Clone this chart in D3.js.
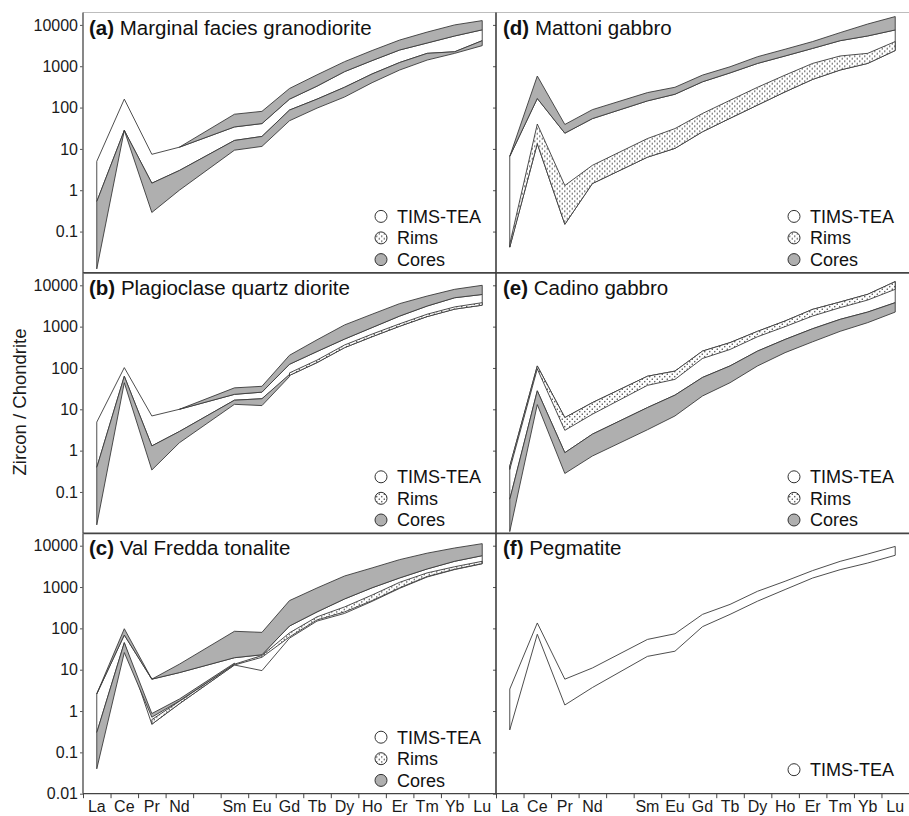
<!DOCTYPE html>
<html>
<head>
<meta charset="utf-8">
<script src="https://cdn.jsdelivr.net/npm/d3@7"></script>
<style>
  html, body { margin: 0; padding: 0; background: #fff; }
  svg { display: block; font-family: "Liberation Sans", Arial, Helvetica, sans-serif; }
</style>
</head>
<body>
<svg id="chart" width="909" height="816"></svg>
<script>
// ---- x axis: REE slots (Pm kept as an empty slot) ----
const slots = ["La","Ce","Pr","Nd","Pm","Sm","Eu","Gd","Tb","Dy","Ho","Er","Tm","Yb","Lu"];
const slotLabels = ["La","Ce","Pr","Nd","","Sm","Eu","Gd","Tb","Dy","Ho","Er","Tm","Yb","Lu"];
const elements = ["La","Ce","Pr","Nd","Sm","Eu","Gd","Tb","Dy","Ho","Er","Tm","Yb","Lu"];

// ---- y axis (chondrite-normalised, log) ----
const yTicks = [0.01, 0.1, 1, 10, 100, 1000, 10000];
const yTickLabels = ["0.01", "0.1", "1", "10", "100", "1000", "10000"];

const panelLetters = ["a", "b", "c", "d", "e", "f"];
const panelTitles = ["Marginal facies granodiorite", "Plagioclase quartz diorite", "Val Fredda tonalite",
                     "Mattoni gabbro", "Cadino gabbro", "Pegmatite"];
const legendLabels = ["TIMS-TEA", "Rims", "Cores"];

// ---- envelopes (lower / upper bound per element, La..Lu) ----
// (a) Marginal facies granodiorite
const aTimsLo = [0.53, 28, 1.48, 3.0, 16, 20, 87, 160, 310, 650, 1230, 2050, 2240, 4150];
const aTimsHi = [5.0, 160, 7.4, 11, 34, 41, 160, 330, 740, 1370, 2470, 3650, 5400, 7600];
const aCoreALo = [0.0125, 28, 0.29, 1.0, 9.3, 11.5, 48, 97, 180, 400, 810, 1410, 2050, 3150];
const aCoreAHi = [0.53, 28, 1.48, 3.0, 16, 20, 87, 160, 310, 650, 1230, 2050, 2240, 4150];
const aCoreBLo = [null, null, null, 11, 34, 41, 160, 330, 740, 1370, 2470, 3650, 5400, 7600];
const aCoreBHi = [null, null, null, 11, 69, 81, 290, 620, 1290, 2400, 4300, 6700, 10000, 12700];

// (b) Plagioclase quartz diorite
const bTimsLo = [0.39, 63, 1.3, 2.9, 16.6, 18, 66, 135, 310, 570, 1020, 1750, 2650, 3300];
const bTimsHi = [4.9, 102, 6.9, 10, 23, 26, 123, 250, 500, 950, 1800, 3150, 5000, 6000];
const bRimLo = [null, null, null, null, null, null, 66, 135, 310, 570, 1020, 1750, 2650, 3300];
const bRimHi = [null, null, null, null, null, null, 76, 155, 360, 660, 1170, 2000, 3000, 3800];
const bCoreALo = [0.016, 44, 0.34, 1.55, 13.2, 12.3, 62, null, null, null, null, null, null, null];
const bCoreAHi = [0.39, 63, 1.3, 2.9, 16.6, 18, 70, null, null, null, null, null, null, null];
const bCoreBLo = [null, null, null, 10, 23, 26, 123, 250, 500, 950, 1800, 3150, 5000, 6000];
const bCoreBHi = [null, null, null, 10, 33, 36, 203, 480, 1100, 2000, 3600, 5500, 8000, 10000];

// (c) Val Fredda tonalite
const cTimsLo = [0.3, 45, 0.48, 1.5, 13, 9.5, 58, 150, 230, 450, 930, 1750, 2650, 3650];
const cTimsHi = [2.6, 69, 5.9, 8.5, 19.5, 23, 114, 250, 515, 960, 1660, 2740, 4200, 5740];
const cRimLo = [null, null, 0.48, 1.5, 13, 20, 62, 160, 250, 470, 960, 1800, 2700, 3700];
const cRimHi = [null, null, 0.62, 1.72, 13.6, 22, 78, 190, 330, 640, 1300, 2200, 3100, 4200];
const cCoreALo = [0.04, 26, 0.71, 1.75, 13.6, null, null, null, null, null, null, null, null, null];
const cCoreAHi = [0.3, 45, 0.87, 1.95, 14.4, null, null, null, null, null, null, null, null, null];
const cCoreBLo = [2.6, 69, 5.9, 8.5, 19.5, 23, 114, 250, 515, 960, 1660, 2740, 4200, 5740];
const cCoreBHi = [2.6, 98, 5.9, 13.6, 85, 80, 470, 950, 1850, 2900, 4600, 6600, 8800, 11200];

// (d) Mattoni gabbro
const dTimsLo = [0.042, 13.4, 0.15, 1.45, 6.3, 10.3, 26, 55, 115, 240, 480, 810, 1170, 2400];
const dTimsHi = [6.6, 166, 24, 54, 145, 210, 420, 690, 1170, 1770, 2700, 4150, 5400, 7550];
const dRimLo = [0.042, 13.4, 0.15, 1.45, 6.3, 10.3, 26, 55, 115, 240, 480, 810, 1170, 2400];
const dRimHi = [0.05, 40, 1.3, 4.0, 17.8, 31, 72, 150, 310, 610, 1170, 1770, 2050, 3950];
const dCoreLo = [6.6, 166, 24, 54, 145, 210, 420, 690, 1170, 1770, 2700, 4150, 5400, 7550];
const dCoreHi = [6.6, 580, 39, 89, 230, 310, 610, 970, 1700, 2580, 3950, 6500, 10500, 15900];

// (e) Cadino gabbro
const eTimsLo = [0.066, 28, 0.89, 2.5, 11, 22, 59, 112, 256, 490, 890, 1500, 2250, 3800];
const eTimsHi = [0.42, 112, 6.3, 14.5, 63, 84, 256, 410, 770, 1370, 2620, 3950, 6050, 12300];
const eRimLo = [0.35, 95, 3.1, 7.6, 38, 53, 170, 280, 570, 1000, 1810, 2880, 4400, 8000];
const eRimHi = [0.42, 112, 6.3, 14.5, 63, 84, 256, 410, 770, 1370, 2620, 3950, 6050, 12300];
const eCoreLo = [0.011, 13, 0.28, 0.74, 3.2, 6.9, 21, 44, 112, 235, 430, 770, 1250, 2250];
const eCoreHi = [0.066, 28, 0.89, 2.5, 11, 22, 59, 112, 256, 490, 890, 1500, 2250, 3800];

// (f) Pegmatite
const fTimsLo = [0.35, 72, 1.4, 3.7, 21, 28, 110, 218, 455, 870, 1650, 2630, 3810, 5860];
const fTimsHi = [3.4, 135, 5.9, 11, 54, 74, 218, 380, 790, 1380, 2500, 4180, 6280, 9600];

// envelopes per panel, in drawing order
const panelBands = [
  [["tims", aTimsLo, aTimsHi], ["cores", aCoreALo, aCoreAHi], ["cores", aCoreBLo, aCoreBHi]],
  [["tims", bTimsLo, bTimsHi], ["rims", bRimLo, bRimHi], ["cores", bCoreALo, bCoreAHi], ["cores", bCoreBLo, bCoreBHi]],
  [["tims", cTimsLo, cTimsHi], ["rims", cRimLo, cRimHi], ["cores", cCoreALo, cCoreAHi], ["cores", cCoreBLo, cCoreBHi]],
  [["tims", dTimsLo, dTimsHi], ["rims", dRimLo, dRimHi], ["cores", dCoreLo, dCoreHi]],
  [["tims", eTimsLo, eTimsHi], ["rims", eRimLo, eRimHi], ["cores", eCoreLo, eCoreHi]],
  [["tims", fTimsLo, fTimsHi]]
];
const panelLegends = [legendLabels, legendLabels, legendLabels, legendLabels, legendLabels, ["TIMS-TEA"]];

// ---- layout ----
const plotLeft = 83, plotTop = 12.5, panelW = 413, panelH = 260.4, decadeSpan = 248;
const lineColor = "#3a3a3a";
const coreFill = "#afafaf";

const svg = d3.select("#chart");

// dotted fill used for rims
const defs = svg.append("defs");
const pat = defs.append("pattern")
  .attr("id", "dots").attr("patternUnits", "userSpaceOnUse")
  .attr("width", 5).attr("height", 5);
pat.append("rect").attr("width", 5).attr("height", 5).attr("fill", "#fff");
pat.append("circle").attr("cx", 1.25).attr("cy", 1.25).attr("r", 0.75).attr("fill", "#333");
pat.append("circle").attr("cx", 3.75).attr("cy", 3.75).attr("r", 0.75).attr("fill", "#333");

const fills = { tims: "#ffffff", rims: "url(#dots)", cores: coreFill };

const x = d3.scaleBand().domain(slots).range([0, panelW]);
const xc = el => x(el) + x.bandwidth() / 2;
const xEdge = d3.scaleLinear().domain([0, slots.length]).range([0, panelW]);
const y = d3.scaleLog().domain([0.01, 10000]).range([panelH, panelH - decadeSpan]);

const area = d3.area()
  .defined(d => d.lo != null && d.hi != null)
  .x(d => xc(d.el))
  .y0(d => y(d.lo))
  .y1(d => y(d.hi));

// light frame along the top
svg.append("line")
  .attr("x1", plotLeft).attr("x2", 909).attr("y1", plotTop).attr("y2", plotTop)
  .attr("stroke", "#bdbdbd").attr("stroke-width", 1);

panelLetters.forEach((letter, i) => {
  const col = i < 3 ? 0 : 1;
  const row = i % 3;
  const g = svg.append("g")
    .attr("transform", `translate(${plotLeft + col * panelW},${plotTop + row * panelH})`);

  // envelopes
  panelBands[i].forEach(([kind, lo, hi]) => {
    const rows = elements.map((el, k) => ({ el, lo: lo[k], hi: hi[k] }));
    g.append("path")
      .datum(rows)
      .attr("d", area)
      .attr("fill", fills[kind])
      .attr("stroke", lineColor)
      .attr("stroke-width", 0.9)
      .attr("stroke-linejoin", "miter");
  });

  // y axis
  const yAxis = d3.axisLeft(y)
    .tickValues(row === 2 ? yTicks : yTicks.slice(1))
    .tickSize(3).tickSizeOuter(0).tickPadding(2)
    .tickFormat(d => col === 0 ? yTickLabels[yTicks.indexOf(d)] : "");
  const ya = g.append("g").call(yAxis);
  ya.select(".domain").remove();
  ya.selectAll(".tick line").attr("stroke", "#555");
  ya.selectAll(".tick text").attr("font-size", 16).attr("fill", "#1a1a1a")
    .attr("font-family", "Liberation Sans, Arial, sans-serif");

  // left axis line
  g.append("line")
    .attr("x1", 0).attr("x2", 0).attr("y1", 0).attr("y2", panelH)
    .attr("stroke", col === 0 ? "#6a6a6a" : "#333").attr("stroke-width", col === 0 ? 1.6 : 1.5);

  // bottom line
  g.append("line")
    .attr("x1", 0).attr("x2", panelW).attr("y1", panelH).attr("y2", panelH)
    .attr("stroke", "#444").attr("stroke-width", row === 2 ? 1.3 : 1.8);

  if (row === 2) {
    // ticks at slot boundaries
    const xa = g.append("g").attr("transform", `translate(0,${panelH})`)
      .call(d3.axisBottom(xEdge).tickValues(d3.range(slots.length + 1)).tickSize(4.5).tickFormat(""));
    xa.select(".domain").remove();
    xa.selectAll(".tick line").attr("stroke", "#444");
    // element labels centred on slots
    const xl = g.append("g").attr("transform", `translate(0,${panelH})`)
      .call(d3.axisBottom(x).tickSize(0).tickPadding(7).tickFormat(d => slotLabels[slots.indexOf(d)]));
    xl.select(".domain").remove();
    xl.selectAll(".tick text").attr("font-size", 16).attr("fill", "#1a1a1a")
      .attr("font-family", "Liberation Sans, Arial, sans-serif");
  }

  // panel title
  const t = g.append("text").attr("x", col === 0 ? 6 : 7).attr("y", 22)
    .attr("font-size", 20.5).attr("fill", "#111");
  t.append("tspan").attr("font-weight", "bold").text(`(${letter})`);
  t.append("tspan").text(" " + panelTitles[i]);

  // legend
  const items = panelLegends[i];
  const offsets = items.length === 3 ? [-56.5, -35, -13.3] : [-24];
  items.forEach((label, k) => {
    const kind = label === "TIMS-TEA" ? "tims" : (label === "Rims" ? "rims" : "cores");
    const cy = panelH + offsets[k];
    g.append("circle")
      .attr("cx", 298).attr("cy", cy).attr("r", 6)
      .attr("fill", fills[kind]).attr("stroke", "#333").attr("stroke-width", 1);
    g.append("text")
      .attr("x", 314).attr("y", cy).attr("dy", "0.36em")
      .attr("font-size", 18).attr("fill", "#111").text(label);
  });
});

// y axis title
svg.append("text")
  .attr("transform", "translate(19.5,402) rotate(-90)")
  .attr("text-anchor", "middle").attr("dy", "0.35em")
  .attr("font-size", 18.5).attr("fill", "#1a1a1a")
  .text("Zircon / Chondrite");
</script>
</body>
</html>
